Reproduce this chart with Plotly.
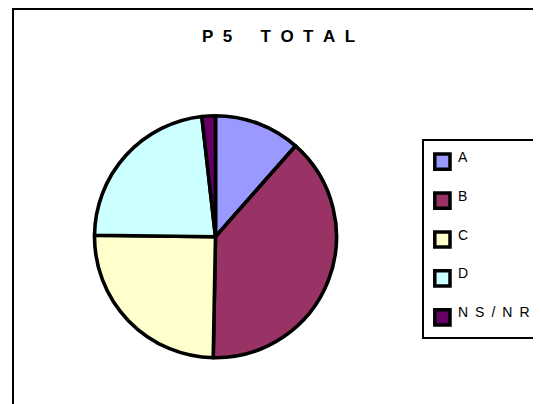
import plotly.graph_objects as go

W, H = 541, 404
OFF = 8  # page body margin

labels = ["A", "B", "C", "D", "NS/NR"]
values = [11.5, 38.8, 24.9, 23.0, 1.8]
colors = ["#9999FF", "#993366", "#FFFFCC", "#CCFFFF", "#660066"]
legend_text = ["A", "B", "C", "D", "N\u2002S\u2002/\u2002N\u2002R"]
title_text = "P\u00a0\u00a05" + "\u00a0" * 6 + "\u00a0\u00a0".join("TOTAL")


def px_x(x):
    return (x - OFF) / W


def px_y(y):
    return 1 - (y - OFF) / H


# pie centre and radius in pixels (screen)
cx, cy, r = 215.5, 236.7, 121

fig = go.Figure(go.Pie(
    labels=labels,
    values=values,
    sort=False,
    direction="clockwise",
    rotation=0,
    textinfo="none",
    hoverinfo="label+percent",
    marker=dict(colors=colors, line=dict(color="black", width=3.6)),
    domain=dict(x=[px_x(cx - r), px_x(cx + r)], y=[px_y(cy + r), px_y(cy - r)]),
    showlegend=False,
))

shapes = [
    # chart frame (top edge sits at the top of the plot div)
    dict(type="rect", xref="paper", yref="paper", x0=px_x(13), y0=px_y(H + 20),
         x1=px_x(W + 20), y1=px_y(9), line=dict(color="black", width=2)),
    # legend box
    dict(type="rect", xref="paper", yref="paper", x0=px_x(423), y0=px_y(338),
         x1=px_x(W + 20), y1=px_y(140), line=dict(color="black", width=2)),
]
annotations = [
    dict(text=title_text, x=px_x(278.5), y=px_y(37), xref="paper", yref="paper",
         showarrow=False, xanchor="center", yanchor="middle",
         font=dict(family="Arial, Liberation Sans", size=17, color="black", weight="bold")),
]

for i, (txt, col) in enumerate(zip(legend_text, colors)):
    yc = 161.7 + 38.9 * i
    shapes.append(dict(type="rect", xref="paper", yref="paper",
                       x0=px_x(434.8), x1=px_x(450), y0=px_y(yc + 7.6), y1=px_y(yc - 7.6),
                       fillcolor=col, line=dict(color="black", width=3.5)))
    annotations.append(dict(text=txt, x=px_x(455.5), y=px_y(yc - 5), xref="paper", yref="paper",
                            showarrow=False, xanchor="left", yanchor="middle",
                            font=dict(family="Arial, Liberation Sans", size=14, color="black")))

fig.update_layout(
    width=W, height=H,
    margin=dict(l=0, r=0, t=0, b=0),
    paper_bgcolor="white",
    plot_bgcolor="white",
    shapes=shapes,
    annotations=annotations,
)

fig.write_html("out.html")
